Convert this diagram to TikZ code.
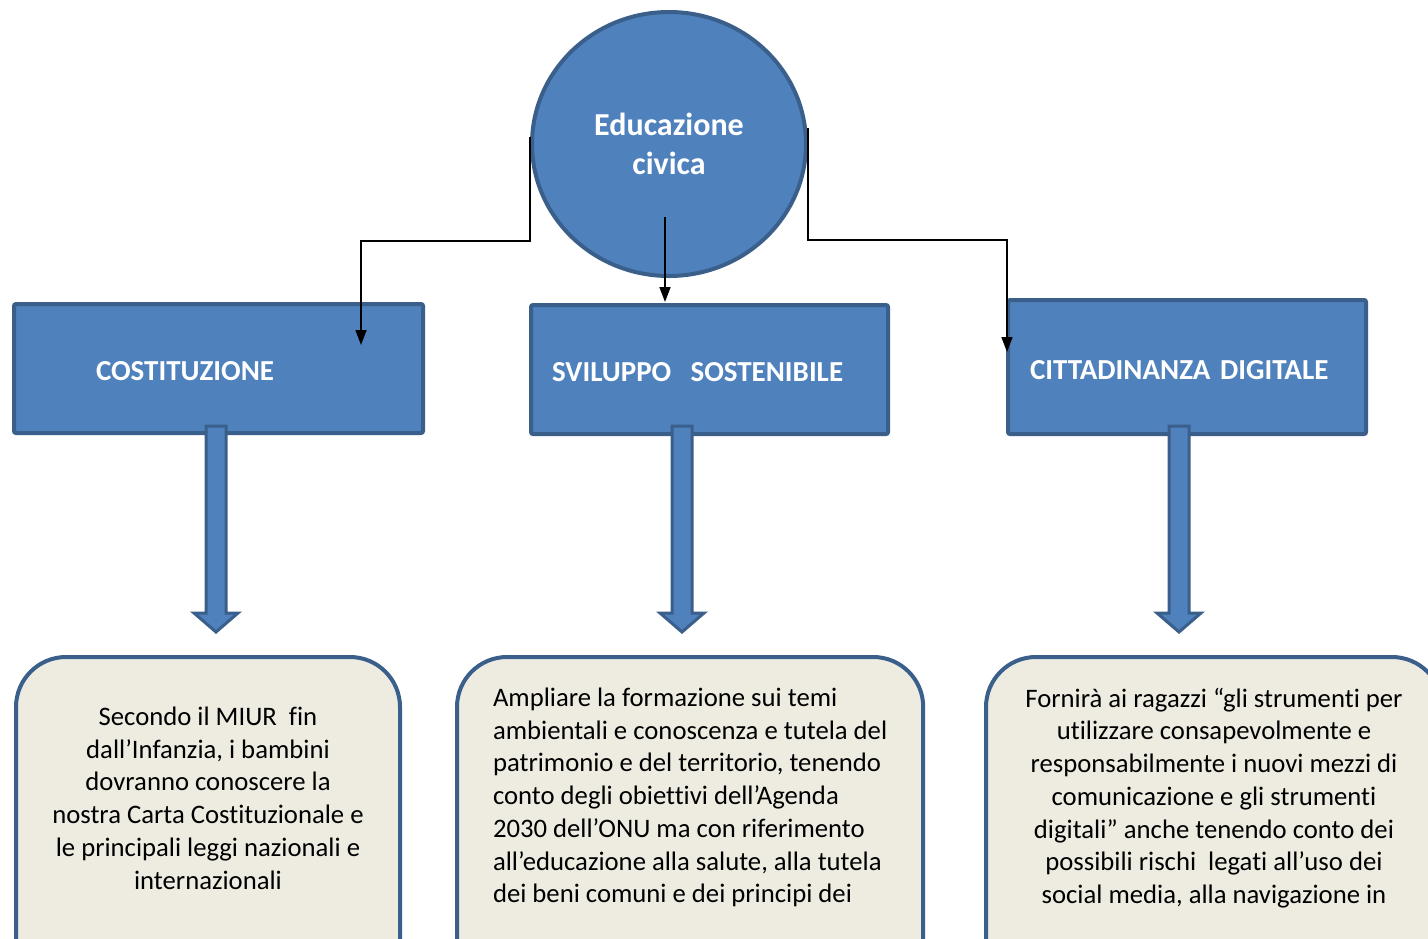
\documentclass[tikz,border=0pt]{standalone}
\usepackage{fontspec}
\setmainfont{Carlito}[Ligatures=CommonOff]
\usetikzlibrary{shapes.geometric,arrows.meta}
\definecolor{fillblue}{HTML}{4F81BD}
\definecolor{lineblue}{HTML}{3A5F8B}
\definecolor{paper}{HTML}{EEECE1}
\begin{document}
\begin{tikzpicture}[x=1pt,y=-1pt,
        topic/.style={rectangle,draw=lineblue,fill=fillblue,line width=4pt,rounded corners=2pt,
            text=white,font=\bfseries\fontsize{29}{34}\selectfont,inner ysep=0pt,align=left,
            text height=24pt,text depth=0pt,minimum height=129pt},
        note/.style={rectangle,draw=lineblue,fill=paper,line width=4pt,rounded corners=50pt,
            anchor=north west,font=\fontsize{26.7}{32.7}\selectfont,text depth=150pt},
        conn/.style={line width=1.6pt,-{Triangle[width=11pt,length=15pt]}},
        bigarrow/.style={draw=lineblue,fill=fillblue,line width=3pt,line join=miter}]
    \useasboundingbox (0,0) rectangle (1428,938);
    \clip (0,0) rectangle (1428,938);
    % centre
    \node[ellipse,draw=lineblue,fill=fillblue,line width=4pt,minimum width=274pt,minimum height=264pt,
        inner sep=0pt,text=white,align=center,font=\bfseries\fontsize{32}{39}\selectfont] (edu) at (669,144) {Educazione\\civica};
    % topics
    \node[topic,text width=245pt,inner xsep=82pt] (c1) at (218.5,368.5) {COSTITUZIONE};
    \node[topic,text width=315pt,inner xsep=21pt] (c2) at (709.5,369.5) {SVILUPPO\ \ SOSTENIBILE};
    \node[topic,text width=314pt,inner xsep=22pt,minimum height=134pt] (c3) at (1187,367) {CITTADINANZA DIGITALE};
    % notes
    \node[note,align=center,minimum width=384pt,inner ysep=50pt] (n1) at (14,655) {Secondo il MIUR\ \ fin\\dall’Infanzia, i bambini\\dovranno conoscere la\\nostra Carta Costituzionale e\\le principali leggi nazionali e\\internazionali};
    \node[note,align=left,minimum width=465pt,inner xsep=36pt,inner ysep=31pt] (n2) at (455,655) {Ampliare la formazione sui temi\\ambientali e conoscenza e tutela del\\patrimonio e del territorio, tenendo\\conto degli obiettivi dell’Agenda\\2030 dell’ONU ma con riferimento\\all’educazione alla salute, alla tutela\\dei beni comuni e dei principi dei};
    \node[note,align=center,minimum width=456pt,inner ysep=31pt] (n3) at (984,655) {Fornirà ai ragazzi “gli strumenti per\\utilizzare consapevolmente e\\responsabilmente i nuovi mezzi di\\comunicazione e gli strumenti\\digitali” anche tenendo conto dei\\possibili rischi\ \ legati all’uso dei\\social media, alla navigazione in};
    % connectors
    \coordinate (t1) at (361,345);
    \coordinate (t2) at (665,302);
    \coordinate (t3) at (1007,352);
    \draw[conn] ([yshift=7pt]edu.west) -- ++(0,104) -| (t1);
    \draw[conn] ([xshift=-4pt,yshift=-73pt]edu.center) -- (t2);
    \draw[conn] ([yshift=16pt]edu.east) -- ++(0,112) -| (t3);
    \foreach \ax in {216,682,1179}
        \draw[bigarrow] (\ax-10,426) -- (\ax+10,426) -- (\ax+10,613) -- (\ax+22,613) -- (\ax,632)
            -- (\ax-22,613) -- (\ax-10,613) -- cycle;
\end{tikzpicture}
\end{document}
